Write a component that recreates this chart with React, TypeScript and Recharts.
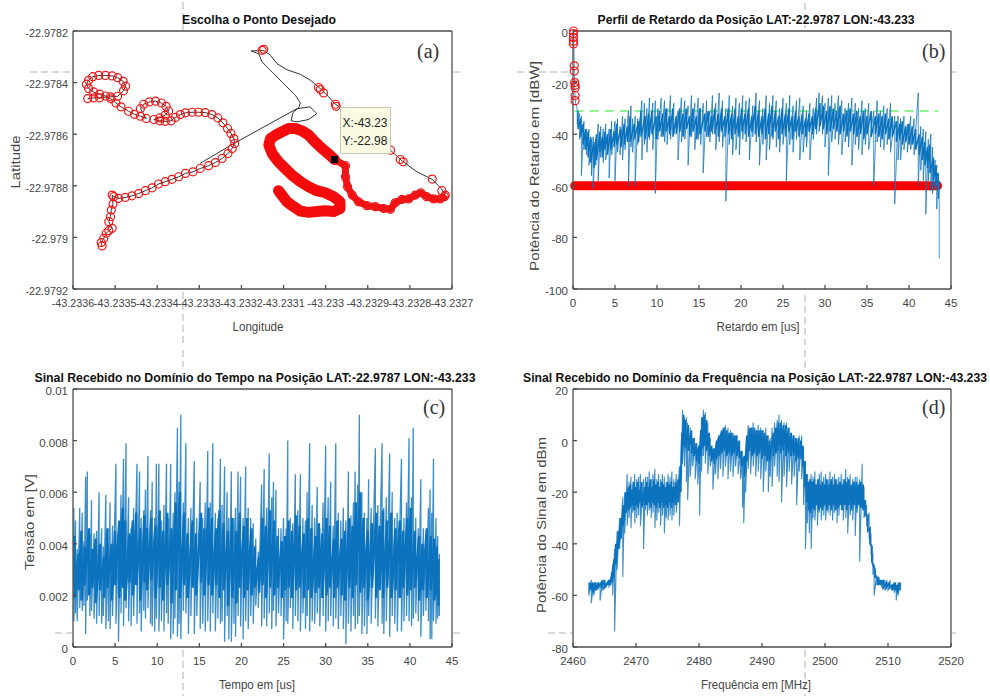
import React from 'react';
import { ComposedChart, Line, XAxis, YAxis } from 'recharts';

// panel (a): GPS track, offsets from the top-left corner of the map in microdegrees [east, south]
const LON0 = -43.2336;
const LAT0 = -22.9782;
const leftLoop = [
  [35, 262], [49, 259], [63, 259], [89, 255], [106, 253], [120, 232], [125, 214], [119, 195], [106, 181], [93, 174],
  [77, 172], [61, 172], [47, 177], [37, 191], [32, 206], [37, 223], [49, 236], [63, 245], [77, 252], [90, 263],
  [102, 279], [114, 294], [132, 311], [146, 323], [160, 330], [174, 339], [160, 301], [168, 284], [181, 275], [196, 272],
  [210, 279], [221, 292], [227, 310], [219, 326], [206, 337], [192, 343], [206, 348], [219, 350], [233, 348], [243, 335],
  [255, 324], [267, 317], [283, 315], [298, 315], [314, 316], [330, 324], [344, 337], [356, 356], [367, 378], [375, 397],
  [382, 417], [384, 436], [378, 455], [368, 475], [354, 494], [338, 510], [322, 522], [302, 533], [285, 546], [267, 552],
  [251, 565], [235, 575], [219, 584], [203, 593], [188, 608], [172, 619], [156, 630], [140, 639], [124, 645], [108, 649],
  [97, 642], [93, 636], [95, 671], [91, 694], [89, 720], [85, 739], [93, 765], [85, 774], [79, 784], [73, 804],
  [67, 820], [69, 833],
];
const crossTrack = [
  [302, 513], [382, 436], [461, 365], [532, 301], [563, 294], [579, 320], [560, 343], [532, 352], [518, 348], [522, 317],
  [536, 297], [540, 279], [528, 249], [500, 204], [473, 159], [449, 120], [441, 88], [423, 77], [453, 76], [469, 94],
  [484, 126], [508, 150], [540, 168], [564, 191], [587, 223], [607, 255], [623, 284], [643, 304], [698, 384], [754, 462],
  [781, 503], [817, 546], [853, 575], [874, 610], [884, 636],
];
const sparseHits = [
  [449, 75], [453, 71], [583, 219], [587, 227], [595, 240], [623, 284], [625, 292], [754, 462], [777, 498], [784, 507],
  [853, 574], [876, 619],
];
const returnLeg = [
  [882, 642], [872, 651], [856, 651], [840, 642], [826, 627], [813, 636], [797, 651], [781, 653], [765, 666], [754, 691],
  [738, 688], [718, 681], [698, 677], [678, 662], [663, 636], [652, 604], [647, 565], [647, 522], [621, 498],
];
const denseLeg = [
  [621, 498], [607, 477], [591, 455], [575, 430], [560, 404], [544, 387], [528, 378], [512, 378], [496, 391], [481, 404],
  [469, 417], [465, 442], [473, 475], [488, 507], [504, 533], [520, 559], [540, 584], [560, 604], [579, 619], [599, 627],
  [619, 642], [634, 662], [634, 688], [619, 700], [599, 697], [579, 700], [560, 703], [540, 698], [524, 681], [508, 662],
  [496, 636], [488, 619],
];
const selectedPoint = [[621, 498]];

// panel (b): delay profile, rows are [delay us, upper dB, lower dB]
const profileStart = [[0.05, 0], [0.1, -5], [0.15, -15], [0.2, -22], [0.3, -28]];
const profileRows = [
  [0.5, -30, -36], [0.8, -32, -42], [1.0, -33, -56], [1.3, -35, -46], [1.6, -38, -48], [1.9, -38, -52], [2.2, -42, -56], [2.4, -41, -61],
  [2.7, -42, -52], [3.0, -36, -58], [3.3, -37, -49], [3.6, -38, -51], [3.9, -36, -50], [4.3, -38, -57], [4.6, -35, -48], [5.0, -35, -58],
  [5.3, -34, -47], [5.6, -37, -48], [5.9, -33, -50], [6.2, -34, -46], [6.6, -31, -60], [6.9, -29, -45], [7.1, -34, -47], [7.4, -33, -60],
  [7.7, -34, -44], [8.2, -27, -50], [8.5, -28, -44], [8.8, -30, -47], [9.1, -26, -42], [9.5, -28, -46], [9.8, -27, -63], [10.1, -30, -42],
  [10.5, -26, -41], [10.9, -27, -43], [11.2, -30, -44], [11.6, -25, -42], [12.0, -28, -40], [12.5, -31, -50], [12.9, -26, -43], [13.3, -27, -42],
  [13.7, -29, -52], [14.1, -25, -41], [14.5, -28, -46], [14.9, -26, -42], [15.2, -30, -44], [15.5, -28, -55], [15.9, -27, -41], [16.3, -31, -43],
  [16.6, -25, -40], [17.0, -28, -46], [17.4, -24, -43], [17.8, -27, -45], [18.2, -30, -66], [18.6, -25, -44], [19.0, -29, -48], [19.4, -26, -46],
  [19.8, -28, -48], [20.2, -25, -42], [20.6, -27, -43], [21.0, -26, -50], [21.4, -29, -41], [21.8, -24, -43], [22.2, -27, -52], [22.6, -30, -44],
  [23.0, -25, -50], [23.4, -28, -46], [23.8, -25, -42], [24.2, -27, -45], [24.6, -30, -47], [25.0, -26, -44], [25.4, -28, -58], [25.8, -25, -44],
  [26.2, -29, -47], [26.6, -27, -42], [27.0, -26, -50], [27.4, -29, -47], [27.8, -31, -45], [28.2, -28, -50], [28.6, -30, -42], [29.0, -26, -40],
  [29.3, -24, -39], [29.7, -25, -40], [30.0, -28, -45], [30.4, -26, -56], [30.8, -25, -43], [31.2, -28, -42], [31.6, -25, -44], [32.0, -27, -48],
  [32.4, -30, -43], [32.8, -28, -45], [33.2, -26, -52], [33.6, -28, -44], [34.0, -30, -46], [34.4, -27, -48], [34.8, -30, -44], [35.2, -28, -46],
  [35.8, -31, -60], [36.2, -27, -43], [36.6, -31, -45], [37.0, -29, -46], [37.4, -30, -44], [37.8, -28, -47], [38.3, -33, -67], [38.7, -33, -50],
  [39.0, -34, -50], [39.4, -33, -46], [39.8, -36, -47], [40.2, -33, -46], [40.6, -34, -48], [41.1, -24, -60], [41.4, -37, -54], [41.7, -38, -58],
  [42.0, -39, -71], [42.3, -42, -58], [42.6, -40, -62], [42.8, -45, -63], [43.1, -50, -61], [43.3, -52, -69], [43.5, -55, -65], [43.6, -58, -88],
];
// densest part of the trace, same layout
const profileFill = [
  [0.6, -31, -38], [0.9, -34, -41], [1.2, -36, -44], [1.5, -38, -46], [1.8, -39, -49], [2.1, -41, -51], [2.5, -43, -53], [2.8, -40, -50], [3.2, -39, -47], [3.5, -41, -49],
  [3.8, -39, -46], [4.1, -40, -48], [4.5, -38, -46], [4.9, -39, -45], [5.2, -36, -44], [5.7, -38, -45], [6.1, -36, -44], [6.5, -37, -43], [6.8, -33, -43], [7.3, -36, -42],
  [7.8, -35, -43], [8.1, -31, -41], [8.6, -33, -42], [9.0, -32, -41], [9.4, -31, -40], [9.9, -33, -42], [10.3, -31, -39], [10.7, -32, -41], [11.1, -30, -39], [11.5, -33, -40],
  [11.9, -30, -41], [12.3, -33, -40], [12.7, -30, -39], [13.1, -32, -41], [13.5, -30, -38], [13.9, -33, -41], [14.3, -30, -39], [14.7, -33, -42], [15.1, -30, -40], [15.7, -32, -39],
  [16.1, -31, -41], [16.5, -33, -39], [16.9, -30, -40], [17.3, -32, -41], [17.7, -30, -39], [18.1, -33, -41], [18.5, -30, -40], [18.9, -32, -42], [19.3, -30, -40], [19.7, -33, -41],
  [20.1, -30, -39], [20.5, -32, -40], [20.9, -30, -41], [21.3, -33, -39], [21.7, -29, -40], [22.1, -31, -41], [22.5, -33, -40], [22.9, -30, -42], [23.3, -32, -40], [23.7, -29, -41],
  [24.1, -31, -39], [24.5, -33, -42], [24.9, -30, -40], [25.3, -32, -41], [25.7, -30, -39], [26.1, -33, -42], [26.5, -31, -39], [26.9, -33, -41], [27.3, -32, -40], [27.7, -34, -41],
  [28.1, -32, -39], [28.5, -33, -40], [28.9, -30, -38], [29.4, -28, -37], [29.8, -29, -38], [30.2, -31, -40], [30.6, -29, -39], [31.0, -30, -38], [31.4, -31, -39], [31.8, -29, -40],
  [32.2, -32, -39], [32.6, -31, -41], [33.0, -30, -39], [33.4, -32, -40], [33.8, -31, -41], [34.2, -33, -40], [34.6, -31, -42], [35.0, -33, -40], [35.5, -31, -41], [36.0, -33, -40],
  [36.4, -32, -41], [36.8, -33, -42], [37.2, -32, -40], [37.6, -34, -42], [38.0, -33, -41], [38.5, -35, -43], [38.9, -36, -42], [39.2, -35, -44], [39.6, -37, -43], [40.0, -36, -44],
  [40.4, -37, -44], [40.8, -38, -46], [41.2, -40, -48], [41.6, -41, -50], [41.9, -43, -52], [42.2, -45, -53], [42.5, -44, -55], [42.9, -49, -58], [43.2, -52, -60], [43.4, -55, -60],
];
const profileHits = [
  [0.05, 0], [0.05, -1], [0.05, -2.5], [0.05, -4], [0.05, -5], [0.15, -13.5], [0.15, -15.5], [0.2, -20], [0.25, -21], [0.25, -22], [0.25, -25], [0.25, -27],
];
const noiseFloor = [[0.2, -60], [43.4, -60]];
const threshold = [[0.2, -31], [43.5, -31]];

// panel (c): time domain, rows are [time us, upper mV, lower mV]
const timeRows = [
  [0.1, 5.4, 1.0], [0.3, 4.9, 1.3], [0.5, 3.8, 1.0], [0.8, 5.4, 1.5], [1.1, 5.2, 1.4], [1.3, 4.1, 1.6], [1.5, 6.6, 0.5], [1.7, 6.8, 1.8],
  [2.0, 4.4, 1.2], [2.2, 5.7, 1.4], [2.5, 4.4, 1.1], [2.8, 4.5, 0.9], [3.1, 6.0, 1.2], [3.4, 4.6, 0.9], [3.6, 3.9, 1.2], [3.9, 5.9, 0.7],
  [4.2, 4.0, 1.0], [4.4, 5.6, 0.7], [4.7, 4.7, 1.2], [5.1, 7.1, 0.9], [5.4, 4.4, 0.2], [5.7, 5.9, 1.3], [6.0, 7.3, 0.8], [6.3, 7.9, 1.5],
  [6.6, 5.8, 1.0], [6.9, 4.6, 0.8], [7.2, 5.4, 1.2], [7.6, 7.1, 0.9], [7.9, 6.8, 1.3], [8.1, 5.0, 0.6], [8.4, 5.3, 1.4], [8.6, 6.1, 1.1],
  [8.9, 7.4, 1.5], [9.2, 5.3, 0.9], [9.4, 6.4, 0.8], [9.7, 5.0, 0.6], [9.9, 7.1, 1.1], [10.2, 7.1, 0.6], [10.5, 4.9, 1.0], [10.8, 5.5, 0.6],
  [11.1, 7.1, 1.3], [11.3, 5.0, 0.9], [11.6, 7.1, 0.3], [11.9, 5.2, 0.5], [12.1, 6.0, 1.1], [12.4, 8.5, 0.4], [12.6, 6.4, 0.9], [12.8, 9.0, 0.3],
  [13.1, 5.6, 1.4], [13.4, 7.9, 1.3], [13.7, 5.0, 0.5], [14.0, 5.4, 1.2], [14.4, 7.2, 0.5], [14.7, 5.0, 1.2], [15.1, 6.4, 0.7], [15.4, 5.0, 0.9],
  [15.7, 5.6, 0.6], [16.0, 7.6, 1.0], [16.3, 5.6, 0.6], [16.6, 7.9, 1.3], [16.9, 5.2, 0.6], [17.2, 5.0, 1.1], [17.5, 7.3, 0.9], [17.7, 5.5, 1.0],
  [18.0, 7.0, 0.2], [18.3, 6.0, 1.2], [18.5, 5.0, 0.3], [18.8, 6.8, 0.2], [19.1, 5.0, 0.9], [19.3, 5.4, 0.4], [19.6, 6.8, 1.2], [19.9, 6.6, 0.8],
  [20.2, 5.0, 0.3], [20.5, 7.0, 1.0], [20.8, 5.4, 0.7], [21.1, 5.0, 1.2], [21.4, 4.8, 0.9], [21.7, 4.2, 1.6], [22.0, 3.7, 1.5], [22.4, 6.3, 0.8],
  [22.7, 6.9, 1.1], [23.0, 5.4, 0.8], [23.3, 7.5, 1.3], [23.6, 5.8, 0.7], [23.8, 6.4, 1.4], [24.1, 6.1, 0.8], [24.4, 4.6, 1.3], [24.7, 4.6, 1.2],
  [25.0, 5.0, 0.3], [25.3, 4.6, 1.0], [25.5, 8.0, 0.9], [25.8, 5.0, 1.5], [26.1, 4.8, 0.7], [26.4, 6.7, 1.2], [26.7, 5.3, 1.0], [27.0, 6.7, 0.6],
  [27.3, 5.0, 1.3], [27.6, 4.9, 0.7], [27.8, 6.0, 1.2], [28.1, 7.9, 0.6], [28.4, 5.5, 1.0], [28.7, 5.0, 0.9], [29.0, 6.2, 1.3], [29.3, 4.6, 0.8],
  [29.7, 5.6, 1.2], [30.0, 7.8, 0.6], [30.3, 5.8, 1.0], [30.6, 6.4, 1.2], [30.9, 4.7, 0.8], [31.2, 7.9, 1.1], [31.5, 5.2, 0.7], [31.8, 4.9, 1.2],
  [32.1, 5.4, 0.7], [32.4, 4.9, 0.1], [32.7, 6.8, 0.9], [33.0, 5.1, 0.6], [33.3, 5.6, 1.2], [33.5, 6.8, 0.7], [33.8, 6.3, 0.9], [34.0, 9.0, 1.2],
  [34.3, 6.0, 0.5], [34.6, 5.2, 0.8], [34.9, 5.0, 0.5], [35.1, 6.5, 1.2], [35.4, 5.4, 0.9], [35.9, 7.7, 1.1], [36.2, 5.5, 0.8], [36.7, 7.9, 0.9],
  [36.9, 5.4, 0.5], [37.2, 5.8, 1.0], [37.6, 7.5, 0.4], [37.9, 6.0, 1.2], [38.2, 5.0, 0.9], [38.5, 5.2, 0.6], [39.0, 7.3, 0.6], [39.3, 5.0, 1.0],
  [39.6, 5.6, 1.2], [39.9, 8.1, 1.0], [40.2, 5.8, 0.8], [40.4, 8.5, 1.1], [40.7, 5.0, 1.3], [41.0, 4.6, 1.0], [41.3, 6.5, 0.4], [41.6, 4.6, 1.2],
  [41.9, 4.4, 1.4], [42.2, 5.4, 1.0], [42.4, 6.1, 0.3], [42.6, 5.2, 0.3], [42.8, 7.3, 1.0], [43.1, 5.0, 0.9], [43.3, 4.3, 1.1], [43.5, 3.6, 1.2],
];
// densest part of the trace, same layout
const timeFill = [
  [0.2, 4.3, 1.9], [0.65, 3.6, 2.2], [1.0, 4.5, 1.8], [1.4, 3.9, 2.4], [1.9, 4.6, 2.0], [2.3, 3.8, 2.3], [2.7, 4.2, 1.7], [3.2, 4.0, 2.2], [3.7, 3.5, 1.9], [4.1, 4.6, 2.3],
  [4.6, 4.0, 1.8], [5.0, 4.5, 2.4], [5.5, 4.9, 1.9], [5.9, 5.4, 2.3], [6.2, 4.9, 1.8], [6.7, 4.4, 2.5], [7.1, 4.9, 2.0], [7.5, 5.2, 2.4], [8.0, 4.6, 1.8], [8.5, 5.1, 2.5],
  [8.8, 4.6, 2.2], [9.3, 5.0, 2.6], [9.8, 4.7, 1.9], [10.3, 5.3, 2.3], [10.7, 4.5, 1.8], [11.2, 5.2, 2.4], [11.7, 4.6, 1.7], [12.2, 5.6, 2.2], [12.7, 6.0, 1.9], [13.2, 5.2, 2.4],
  [13.6, 4.4, 1.9], [14.2, 4.9, 2.3], [14.6, 4.4, 2.0], [15.2, 5.2, 2.5], [15.6, 4.6, 2.0], [16.1, 5.4, 2.4], [16.5, 5.0, 2.0], [17.0, 4.6, 2.4], [17.4, 5.3, 1.9], [17.9, 4.8, 2.2],
  [18.4, 4.5, 1.6], [18.9, 5.0, 1.9], [19.4, 4.5, 1.7], [19.8, 5.2, 2.3], [20.3, 4.7, 1.9], [20.7, 5.0, 2.2], [21.2, 4.6, 2.0], [21.6, 3.9, 2.3], [22.1, 3.5, 2.1], [22.5, 5.0, 2.4],
  [22.9, 4.7, 1.9], [23.4, 5.3, 2.3], [23.9, 4.9, 2.0], [24.3, 4.3, 2.3], [24.8, 4.1, 1.9], [25.2, 4.3, 2.2], [25.6, 4.9, 2.3], [26.0, 4.5, 1.9], [26.5, 5.1, 2.2], [26.9, 4.7, 2.3],
  [27.4, 4.4, 1.9], [27.9, 5.0, 2.2], [28.3, 4.6, 1.9], [28.8, 4.3, 2.1], [29.2, 4.8, 2.3], [29.6, 4.4, 1.9], [30.1, 5.0, 2.0], [30.5, 4.7, 2.3], [31.0, 4.2, 1.9], [31.4, 4.9, 2.3],
  [31.9, 4.2, 2.0], [32.3, 4.5, 1.8], [32.8, 5.0, 2.3], [33.2, 4.7, 1.9], [33.6, 5.6, 2.4], [34.1, 6.0, 2.1], [34.5, 5.0, 2.3], [35.0, 4.5, 1.8], [35.5, 4.8, 2.3], [36.0, 5.2, 1.9],
  [36.4, 4.7, 2.2], [36.8, 5.3, 1.9], [37.3, 4.9, 2.3], [37.8, 5.2, 1.9], [38.3, 4.6, 2.2], [38.8, 4.9, 1.9], [39.2, 4.5, 2.3], [39.7, 5.0, 2.0], [40.1, 5.4, 2.2], [40.6, 4.5, 2.3],
  [41.1, 4.3, 1.8], [41.5, 4.0, 2.2], [42.0, 4.6, 1.9], [42.5, 4.3, 2.2], [42.9, 4.2, 1.8], [43.2, 3.9, 2.0], [43.4, 3.4, 1.6],
];

// panel (d): spectrum, rows are [frequency MHz, upper dBm, lower dBm]
const spectrumRows = [
  [2462.5, -55, -60], [2462.9, -54, -63], [2463.3, -55, -60], [2463.7, -55, -58], [2464.3, -55, -62], [2464.7, -54, -58], [2465.2, -55, -57], [2465.7, -54, -57],
  [2466.0, -53, -56], [2466.3, -48, -60], [2466.6, -42, -74], [2467.0, -35, -50], [2467.4, -30, -42], [2467.9, -22, -53], [2468.2, -20, -36], [2468.6, -13, -33],
  [2468.9, -16, -30], [2469.2, -14, -34], [2469.5, -16, -28], [2469.8, -13, -32], [2470.1, -15, -30], [2470.4, -14, -29], [2470.7, -13, -33], [2471.2, -15, -42],
  [2471.5, -14, -27], [2471.8, -14, -29], [2472.1, -12, -27], [2472.4, -15, -30], [2472.7, -13, -28], [2473.0, -11, -34], [2473.3, -15, -31], [2473.6, -13, -28],
  [2473.9, -15, -33], [2474.2, -13, -29], [2474.5, -14, -36], [2474.8, -16, -30], [2475.1, -13, -31], [2475.4, -14, -29], [2475.7, -12, -31], [2476.0, -15, -29],
  [2476.4, -13, -28], [2476.9, -10, -33], [2477.2, 0, -12], [2477.4, 12, -8], [2477.7, 9, -10], [2478.0, 9, -16], [2478.2, 7, -23], [2478.6, 5, -14],
  [2479.0, 1, -10], [2479.4, -1, -15], [2479.8, -3, -17], [2480.1, -5, -29], [2480.4, 9, -12], [2480.7, 12, -6], [2481.0, 11, -9], [2481.4, 7, -13],
  [2481.8, 1, -10], [2482.2, -3, -19], [2482.6, -3, -13], [2483.0, 1, -15], [2483.4, 3, -11], [2483.8, 5, -14], [2484.2, 6, -10], [2484.6, 5, -15],
  [2485.0, 4, -12], [2485.4, 3, -14], [2485.8, 2, -10], [2486.2, 0, -13], [2486.6, -4, -15], [2486.9, -8, -26], [2487.1, -8, -32], [2487.4, -6, -20],
  [2487.8, 6, -11], [2488.2, 5, -13], [2488.6, 7, -10], [2489.0, 4, -14], [2489.4, 6, -12], [2489.8, 5, -15], [2490.2, 4, -20], [2490.6, 5, -12],
  [2491.0, 2, -20], [2491.3, 1, -14], [2491.6, 5, -18], [2492.0, 7, -10], [2492.4, 8, -14], [2492.7, 10, -16], [2493.1, 8, -24], [2493.5, 7, -14],
  [2493.9, 7, -18], [2494.3, 5, -12], [2494.7, 3, -17], [2495.1, 2, -14], [2495.5, 0, -25], [2495.9, 2, -12], [2496.3, 2, -15], [2496.6, -3, -25],
  [2496.9, -8, -42], [2497.2, -13, -32], [2497.5, -15, -36], [2497.8, -13, -42], [2498.1, -14, -30], [2498.4, -12, -31], [2498.8, -15, -33], [2499.1, -13, -28],
  [2499.4, -12, -31], [2499.8, -14, -29], [2500.1, -13, -31], [2500.5, -15, -28], [2500.8, -12, -29], [2501.2, -14, -31], [2501.5, -13, -28], [2501.9, -15, -32],
  [2502.2, -14, -29], [2502.6, -13, -27], [2502.9, -15, -31], [2503.3, -11, -30], [2503.6, -14, -36], [2504.0, -13, -29], [2504.4, -15, -31], [2504.8, -14, -37],
  [2505.1, -14, -28], [2505.5, -15, -47], [2505.9, -9, -26], [2506.2, -18, -30], [2506.6, -25, -33], [2507.0, -28, -38], [2507.3, -36, -44], [2507.6, -44, -52],
  [2507.8, -48, -60], [2508.2, -52, -56], [2508.6, -53, -56], [2509.0, -54, -57], [2509.5, -54, -58], [2510.0, -55, -58], [2510.5, -56, -58], [2511.0, -55, -59],
  [2511.3, -56, -62], [2511.6, -55, -60], [2512.0, -55, -58],
];
// densest part of the trace, same layout
const spectrumFill = [
  [2462.7, -55, -58], [2463.1, -55, -59], [2463.5, -55, -58], [2464, -55, -57], [2464.5, -55, -57], [2465, -54, -57], [2465.5, -55, -56], [2465.9, -54, -56], [2466.2, -51, -55], [2466.5, -46, -53],
  [2466.8, -40, -48], [2467.2, -35, -42], [2467.6, -30, -38], [2468, -25, -33], [2468.4, -20, -28], [2468.8, -18, -27], [2469.1, -17, -26], [2469.4, -19, -25], [2469.7, -16, -27], [2470, -18, -25],
  [2470.3, -16, -26], [2470.6, -19, -24], [2470.9, -16, -26], [2471.4, -18, -25], [2471.7, -16, -25], [2472, -18, -24], [2472.3, -15, -26], [2472.6, -18, -24], [2472.9, -15, -25], [2473.2, -17, -26],
  [2473.5, -16, -24], [2473.8, -18, -26], [2474.1, -16, -24], [2474.4, -17, -26], [2474.7, -18, -25], [2475, -16, -26], [2475.3, -17, -24], [2475.6, -16, -26], [2475.9, -18, -24], [2476.3, -16, -25],
  [2476.7, -15, -24], [2477.1, -10, -20], [2477.3, 3, -9], [2477.55, 10, -2], [2477.85, 8, -3], [2478.3, 6, -4], [2478.8, 4, -5], [2479.2, 1, -6], [2479.6, -1, -8], [2480, -2, -9],
  [2480.3, 4, -6], [2480.55, 9, -3], [2480.85, 10, -2], [2481.2, 8, -4], [2481.6, 3, -6], [2482, -2, -8], [2482.4, -3, -9], [2482.8, 0, -7], [2483.2, 2, -6], [2483.6, 4, -5],
  [2484, 5, -4], [2484.4, 4, -6], [2484.8, 3, -5], [2485.2, 3, -6], [2485.6, 2, -5], [2486, 2, -6], [2486.4, 0, -7], [2486.8, -4, -10], [2487.2, -6, -14], [2487.6, 2, -8],
  [2488, 5, -4], [2488.4, 5, -6], [2488.8, 5, -5], [2489.2, 4, -6], [2489.6, 4, -5], [2490, 4, -7], [2490.4, 3, -6], [2490.8, 2, -8], [2491.2, 0, -8], [2491.8, 3, -6],
  [2492.2, 5, -5], [2492.6, 7, -4], [2493, 7, -5], [2493.4, 6, -4], [2493.8, 6, -6], [2494.2, 5, -5], [2494.6, 3, -6], [2495, 2, -6], [2495.4, 1, -8], [2495.8, 1, -7],
  [2496.2, 0, -7], [2496.5, -2, -10], [2496.8, -8, -18], [2497.1, -13, -24], [2497.4, -16, -27], [2497.7, -15, -28], [2498, -16, -26], [2498.3, -15, -27], [2498.6, -17, -25], [2498.95, -15, -27],
  [2499.25, -17, -26], [2499.6, -16, -27], [2499.95, -17, -25], [2500.3, -15, -27], [2500.65, -17, -25], [2501, -15, -27], [2501.35, -17, -25], [2501.7, -15, -27], [2502.05, -17, -26], [2502.4, -16, -25],
  [2502.75, -17, -27], [2503.1, -15, -25], [2503.45, -16, -27], [2503.8, -15, -25], [2504.2, -17, -27], [2504.6, -16, -25], [2505, -16, -26], [2505.35, -17, -25], [2505.7, -16, -26], [2506.05, -17, -27],
  [2506.4, -23, -29], [2506.8, -29, -35], [2507.15, -34, -40], [2507.45, -41, -47], [2507.95, -50, -53], [2508.4, -53, -56], [2508.8, -54, -56], [2509.25, -54, -57], [2509.75, -55, -57], [2510.25, -55, -57],
  [2510.75, -56, -58], [2511.15, -55, -58], [2511.45, -56, -59], [2511.8, -55, -58],
];

const lonTicks = [-43.2336, -43.2335, -43.2334, -43.2333, -43.2332, -43.2331, -43.233, -43.2329, -43.2328, -43.2327];
const latTicks = [-22.9792, -22.979, -22.9788, -22.9786, -22.9784, -22.9782];
const delayTicks = [0, 5, 10, 15, 20, 25, 30, 35, 40, 45];
const powerTicks = [-100, -80, -60, -40, -20, 0];
const voltTicks = [0, 0.002, 0.004, 0.006, 0.008, 0.01];
const freqTicks = [2460, 2470, 2480, 2490, 2500, 2510, 2520];
const dbmTicks = [-80, -60, -40, -20, 0, 20];

const toGeo = (rows: number[][]) => rows.map(([e, s]) => ({ x: LON0 + e / 1e6, y: LAT0 - s / 1e6 }));
const toXY = (rows: number[][]) => rows.map(([x, y]) => ({ x, y }));
const zigzag = (rows: number[][], scale = 1) =>
  rows.flatMap(([x, hi, lo]) => [{ x, y: hi * scale }, { x, y: lo * scale }]);

const profileData = [...toXY(profileStart), ...zigzag(profileRows)];

const FONT = '"Liberation Sans", Arial, sans-serif';
const INK = '#454545';
const BLUE = '#0B72BD';
const AXIS = '#4d4d4d';

type PanelProps = {
  left: number; top: number; tickFont?: number;
  margin: { left: number; right: number; top: number; bottom: number };
  xTicks: number[]; yTicks: number[];
  xDomain: [number, number]; yDomain: [number, number];
  children: React.ReactNode;
};

// MATLAB style box: ticks point inwards on all four sides
const Panel = ({ left, top, tickFont = 11.5, margin, xTicks, yTicks, xDomain, yDomain, children }: PanelProps) => {
  const labelStyle = { fontSize: tickFont, fill: INK, fontFamily: FONT };
  const line = { stroke: AXIS, strokeWidth: 1.3 };
  return (
    <div style={{ position: 'absolute', left, top }}>
      <ComposedChart width={495} height={345} margin={margin}>
        <XAxis type="number" dataKey="x" domain={xDomain} ticks={xTicks} height={1} interval={0}
          tick={labelStyle} tickSize={-4} tickMargin={14} axisLine={line} tickLine={line} />
        <XAxis xAxisId="top" orientation="top" type="number" dataKey="x" domain={xDomain} ticks={xTicks} height={1} interval={0}
          tick={false} tickSize={-4} axisLine={line} tickLine={line} />
        <YAxis type="number" domain={yDomain} ticks={yTicks} width={1} interval={0}
          tick={{ ...labelStyle, dy: 2 }} tickSize={-4} tickMargin={9} axisLine={line} tickLine={line} />
        <YAxis yAxisId="right" orientation="right" type="number" domain={yDomain} ticks={yTicks} width={1} interval={0}
          tick={false} tickSize={-4} axisLine={line} tickLine={line} />
        {children}
      </ComposedChart>
    </div>
  );
};

const SelectedMarker = ({ cx, cy }: { cx?: number; cy?: number }) => {
  if (cx == null || cy == null) return null;
  return (
    <g fontFamily={FONT} fontSize={13} fill="#222">
      <rect x={cx - 3.5} y={cy - 3.5} width={7} height={7} fill="#000" />
      <rect x={cx + 6} y={cy - 52} width={50} height={46} fill="#FBFBE3" stroke="#c9c9b5" />
      <text x={cx + 8} y={cy - 32} textLength={45} lengthAdjust="spacingAndGlyphs">X:-43.23</text>
      <text x={cx + 8} y={cy - 14} textLength={45} lengthAdjust="spacingAndGlyphs">Y:-22.98</text>
    </g>
  );
};

const Fit = ({ x, y, len, bold, rot, size = 12.5, children }: { x: number; y: number; len: number; bold?: boolean; rot?: boolean; size?: number; children: string }) => (
  <text x={x} y={y} textAnchor="middle" textLength={len} lengthAdjust="spacingAndGlyphs"
    fontSize={bold ? 12 : size} fontWeight={bold ? 'bold' : 'normal'} fill={bold ? '#111' : INK}
    transform={rot ? `rotate(-90 ${x} ${y})` : undefined}>
    {children}
  </text>
);

const guideLines = [
  [183, 2, 183, 30], [183, 292, 183, 345], [183, 350, 183, 367], [183, 650, 183, 696],
  [805, 3, 805, 28], [805, 295, 805, 345], [805, 350, 805, 368], [805, 650, 805, 696],
  [30, 72, 72, 72], [453, 72, 461, 72], [517, 72, 572, 72], [952, 72, 956, 72],
  [55, 633, 72, 633], [453, 633, 460, 633], [548, 633, 572, 633], [952, 633, 956, 633],
];

const hollow = { r: 4, fill: 'none', stroke: '#F01414', strokeWidth: 1.2 };

export default function App() {
  return (
    <div style={{ position: 'absolute', left: 0, top: 0, width: 990, height: 696, background: '#fff', fontFamily: FONT, overflow: 'hidden' }}>
      <svg width={990} height={696} style={{ position: 'absolute', left: 0, top: 0 }}>
        {guideLines.map((g, i) => (
          <line key={i} x1={g[0]} y1={g[1]} x2={g[2]} y2={g[3]} stroke="#b0b0b0" strokeDasharray="7 4" />
        ))}
      </svg>

      <Panel left={0} top={0} tickFont={10.8} margin={{ left: 72, right: 42, top: 30, bottom: 55 }}
        xTicks={lonTicks} yTicks={latTicks} xDomain={[-43.2336, -43.2327]} yDomain={[-22.9792, -22.9782]}>
        <Line data={toGeo(leftLoop)} dataKey="y" stroke="#333" strokeWidth={1} dot={hollow} isAnimationActive={false} />
        <Line data={toGeo(crossTrack)} dataKey="y" stroke="#333" strokeWidth={1} dot={false} isAnimationActive={false} />
        <Line data={toGeo(sparseHits)} dataKey="y" stroke="none" dot={hollow} isAnimationActive={false} />
        <Line data={toGeo([...crossTrack.slice(-1), ...returnLeg])} dataKey="y" stroke="#F01414" strokeWidth={7} strokeLinejoin="round" dot={hollow} isAnimationActive={false} />
        <Line data={toGeo(denseLeg)} dataKey="y" stroke="#F40A0A" strokeWidth={11} strokeLinejoin="round" strokeLinecap="round" dot={false} isAnimationActive={false} />
        <Line data={toGeo(selectedPoint)} dataKey="y" stroke="none" dot={(p: any) => <SelectedMarker key="sel" cx={p.cx} cy={p.cy} />} isAnimationActive={false} />
      </Panel>

      <Panel left={495} top={0} margin={{ left: 77, right: 38, top: 30, bottom: 55 }}
        xTicks={delayTicks} yTicks={powerTicks} xDomain={[0, 45]} yDomain={[-100, 0]}>
        <Line data={toXY(noiseFloor)} dataKey="y" stroke="#FF0000" strokeWidth={9} strokeLinecap="round" dot={false} isAnimationActive={false} />
        <Line data={toXY(threshold)} dataKey="y" stroke="#6CF06C" strokeWidth={1.3} strokeDasharray="9 6" dot={false} isAnimationActive={false} />
        <Line data={toXY(profileHits)} dataKey="y" stroke="none" dot={hollow} isAnimationActive={false} />
        <Line data={profileData} dataKey="y" stroke={BLUE} strokeWidth={1} strokeOpacity={0.75} dot={false} isAnimationActive={false} />
        <Line data={zigzag(profileFill)} dataKey="y" stroke={BLUE} strokeWidth={1.5} dot={false} isAnimationActive={false} />
      </Panel>

      <Panel left={0} top={350} margin={{ left: 72, right: 42, top: 38, bottom: 47 }}
        xTicks={delayTicks} yTicks={voltTicks} xDomain={[0, 45]} yDomain={[0, 0.01]}>
        <Line data={zigzag(timeRows, 0.001)} dataKey="y" stroke={BLUE} strokeWidth={1.3} strokeOpacity={0.8} dot={false} isAnimationActive={false} />
        <Line data={zigzag(timeFill, 0.001)} dataKey="y" stroke={BLUE} strokeWidth={2.4} dot={false} isAnimationActive={false} />
      </Panel>

      <Panel left={495} top={350} margin={{ left: 77, right: 38, top: 38, bottom: 47 }}
        xTicks={freqTicks} yTicks={dbmTicks} xDomain={[2460, 2520]} yDomain={[-80, 20]}>
        <Line data={zigzag(spectrumRows)} dataKey="y" stroke={BLUE} strokeWidth={1.1} strokeOpacity={0.8} dot={false} isAnimationActive={false} />
        <Line data={zigzag(spectrumFill)} dataKey="y" stroke={BLUE} strokeWidth={1.8} dot={false} isAnimationActive={false} />
      </Panel>

      <svg width={990} height={696} style={{ position: 'absolute', left: 0, top: 0, pointerEvents: 'none' }} fontFamily={FONT}>
        <Fit x={259} y={24} len={154} bold>Escolha o Ponto Desejado</Fit>
        <Fit x={756} y={24} len={317} bold>Perfil de Retardo da Posição LAT:-22.9787 LON:-43.233</Fit>
        <Fit x={255} y={382} len={441} bold>Sinal Recebido no Domínio do Tempo na Posição LAT:-22.9787 LON:-43.233</Fit>
        <Fit x={755} y={382} len={464} bold>Sinal Recebido no Domínio da Frequência na Posição LAT:-22.9787 LON:-43.233</Fit>

        <Fit x={258} y={331} len={51}>Longitude</Fit>
        <Fit x={758} y={331} len={83}>Retardo em [us]</Fit>
        <Fit x={257} y={689} len={76}>Tempo em [us]</Fit>
        <Fit x={756} y={689} len={110}>Frequência em [MHz]</Fit>

        <Fit x={20} y={162} len={53} rot>Latitude</Fit>
        <Fit x={539} y={166} len={210} rot>Potência do Retardo em [dBW]</Fit>
        <Fit x={34} y={522} len={96} rot>Tensão em [V]</Fit>
        <Fit x={546} y={525} len={176} rot>Potência do Sinal em dBm</Fit>

        <g fontFamily='"Liberation Serif", serif' fontSize={20} fill="#333">
          <text x={417} y={58}>(a)</text>
          <text x={922} y={58}>(b)</text>
          <text x={423} y={414}>(c)</text>
          <text x={922} y={414}>(d)</text>
        </g>
      </svg>
    </div>
  );
}
